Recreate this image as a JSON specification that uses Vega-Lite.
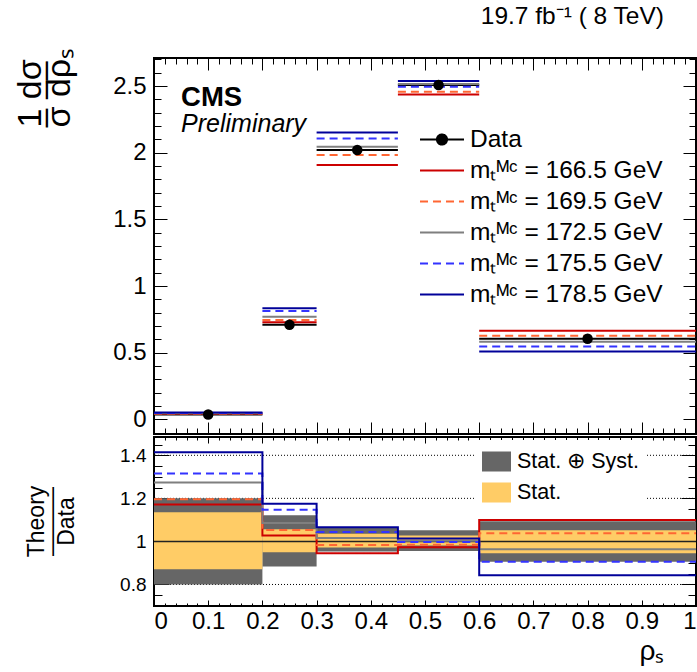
{
  "$schema": "https://vega.github.io/schema/vega-lite/v6.json",
  "background": "white",
  "padding": {"left": 12, "top": 3, "right": 0, "bottom": 0},
  "bounds": "flush",
  "spacing": 3,
  "config": {
    "font": "Liberation Sans",
    "view": {"stroke": "black", "strokeWidth": 2},
    "axis": {"domain": false, "grid": false, "labelFont": "Liberation Sans", "titleFont": "Liberation Sans", "tickColor": "black", "labelColor": "black", "titleColor": "black", "titleFontWeight": "normal", "tickWidth": 1, "zindex": 1, "ticks": true}
  },
  "datasets": {
    "top": [
      {"series": "Data", "lo": 0, "hi": 0.2, "y": 0.036},
      {"series": "Data", "lo": 0.2, "hi": 0.3, "y": 0.709},
      {"series": "Data", "lo": 0.3, "hi": 0.45, "y": 2.02},
      {"series": "Data", "lo": 0.45, "hi": 0.6, "y": 2.507},
      {"series": "Data", "lo": 0.6, "hi": 1.0, "y": 0.604},
      {"series": "mₜᴹᶜ = 166.5 GeV", "lo": 0, "hi": 0.2, "y": 0.042},
      {"series": "mₜᴹᶜ = 166.5 GeV", "lo": 0.2, "hi": 0.3, "y": 0.729},
      {"series": "mₜᴹᶜ = 166.5 GeV", "lo": 0.3, "hi": 0.45, "y": 1.908},
      {"series": "mₜᴹᶜ = 166.5 GeV", "lo": 0.45, "hi": 0.6, "y": 2.437},
      {"series": "mₜᴹᶜ = 166.5 GeV", "lo": 0.6, "hi": 1.0, "y": 0.664},
      {"series": "mₜᴹᶜ = 169.5 GeV", "lo": 0, "hi": 0.2, "y": 0.043},
      {"series": "mₜᴹᶜ = 169.5 GeV", "lo": 0.2, "hi": 0.3, "y": 0.745},
      {"series": "mₜᴹᶜ = 169.5 GeV", "lo": 0.3, "hi": 0.45, "y": 1.983},
      {"series": "mₜᴹᶜ = 169.5 GeV", "lo": 0.45, "hi": 0.6, "y": 2.457},
      {"series": "mₜᴹᶜ = 169.5 GeV", "lo": 0.6, "hi": 1.0, "y": 0.627},
      {"series": "mₜᴹᶜ = 172.5 GeV", "lo": 0, "hi": 0.2, "y": 0.046},
      {"series": "mₜᴹᶜ = 172.5 GeV", "lo": 0.2, "hi": 0.3, "y": 0.77},
      {"series": "mₜᴹᶜ = 172.5 GeV", "lo": 0.3, "hi": 0.45, "y": 2.045},
      {"series": "mₜᴹᶜ = 172.5 GeV", "lo": 0.45, "hi": 0.6, "y": 2.515},
      {"series": "mₜᴹᶜ = 172.5 GeV", "lo": 0.6, "hi": 1.0, "y": 0.582},
      {"series": "mₜᴹᶜ = 175.5 GeV", "lo": 0, "hi": 0.2, "y": 0.047},
      {"series": "mₜᴹᶜ = 175.5 GeV", "lo": 0.2, "hi": 0.3, "y": 0.813},
      {"series": "mₜᴹᶜ = 175.5 GeV", "lo": 0.3, "hi": 0.45, "y": 2.107},
      {"series": "mₜᴹᶜ = 175.5 GeV", "lo": 0.45, "hi": 0.6, "y": 2.494},
      {"series": "mₜᴹᶜ = 175.5 GeV", "lo": 0.6, "hi": 1.0, "y": 0.547},
      {"series": "mₜᴹᶜ = 178.5 GeV", "lo": 0, "hi": 0.2, "y": 0.051},
      {"series": "mₜᴹᶜ = 178.5 GeV", "lo": 0.2, "hi": 0.3, "y": 0.833},
      {"series": "mₜᴹᶜ = 178.5 GeV", "lo": 0.3, "hi": 0.45, "y": 2.152},
      {"series": "mₜᴹᶜ = 178.5 GeV", "lo": 0.45, "hi": 0.6, "y": 2.537},
      {"series": "mₜᴹᶜ = 178.5 GeV", "lo": 0.6, "hi": 1.0, "y": 0.509}
    ],
    "points": [
      {"rho": 0.1, "value": 0.036},
      {"rho": 0.25, "value": 0.709},
      {"rho": 0.375, "value": 2.02},
      {"rho": 0.525, "value": 2.507},
      {"rho": 0.8, "value": 0.604}
    ],
    "ratio": [
      {"series": "mₜᴹᶜ = 166.5 GeV", "x": 0, "r": 1.172},
      {"series": "mₜᴹᶜ = 166.5 GeV", "x": 0.2, "r": 1.028},
      {"series": "mₜᴹᶜ = 166.5 GeV", "x": 0.3, "r": 0.945},
      {"series": "mₜᴹᶜ = 166.5 GeV", "x": 0.45, "r": 0.973},
      {"series": "mₜᴹᶜ = 166.5 GeV", "x": 0.6, "r": 1.099},
      {"series": "mₜᴹᶜ = 166.5 GeV", "x": 1.0, "r": 1.099},
      {"series": "mₜᴹᶜ = 169.5 GeV", "x": 0, "r": 1.196},
      {"series": "mₜᴹᶜ = 169.5 GeV", "x": 0.2, "r": 1.053},
      {"series": "mₜᴹᶜ = 169.5 GeV", "x": 0.3, "r": 0.983},
      {"series": "mₜᴹᶜ = 169.5 GeV", "x": 0.45, "r": 0.984},
      {"series": "mₜᴹᶜ = 169.5 GeV", "x": 0.6, "r": 1.038},
      {"series": "mₜᴹᶜ = 169.5 GeV", "x": 1.0, "r": 1.038},
      {"series": "mₜᴹᶜ = 172.5 GeV", "x": 0, "r": 1.274},
      {"series": "mₜᴹᶜ = 172.5 GeV", "x": 0.2, "r": 1.086},
      {"series": "mₜᴹᶜ = 172.5 GeV", "x": 0.3, "r": 1.016},
      {"series": "mₜᴹᶜ = 172.5 GeV", "x": 0.45, "r": 1.003},
      {"series": "mₜᴹᶜ = 172.5 GeV", "x": 0.6, "r": 0.964},
      {"series": "mₜᴹᶜ = 172.5 GeV", "x": 1.0, "r": 0.964},
      {"series": "mₜᴹᶜ = 175.5 GeV", "x": 0, "r": 1.316},
      {"series": "mₜᴹᶜ = 175.5 GeV", "x": 0.2, "r": 1.147},
      {"series": "mₜᴹᶜ = 175.5 GeV", "x": 0.3, "r": 1.044},
      {"series": "mₜᴹᶜ = 175.5 GeV", "x": 0.45, "r": 0.997},
      {"series": "mₜᴹᶜ = 175.5 GeV", "x": 0.6, "r": 0.906},
      {"series": "mₜᴹᶜ = 175.5 GeV", "x": 1.0, "r": 0.906},
      {"series": "mₜᴹᶜ = 178.5 GeV", "x": 0, "r": 1.414},
      {"series": "mₜᴹᶜ = 178.5 GeV", "x": 0.2, "r": 1.175},
      {"series": "mₜᴹᶜ = 178.5 GeV", "x": 0.3, "r": 1.066},
      {"series": "mₜᴹᶜ = 178.5 GeV", "x": 0.45, "r": 1.013},
      {"series": "mₜᴹᶜ = 178.5 GeV", "x": 0.6, "r": 0.843},
      {"series": "mₜᴹᶜ = 178.5 GeV", "x": 1.0, "r": 0.843}
    ],
    "bands": [
      {"band": "Stat. ⊕ Syst.", "lo": 0, "hi": 0.2, "low": 0.80, "high": 1.20},
      {"band": "Stat. ⊕ Syst.", "lo": 0.2, "hi": 0.3, "low": 0.884, "high": 1.122},
      {"band": "Stat. ⊕ Syst.", "lo": 0.3, "hi": 0.45, "low": 0.953, "high": 1.067},
      {"band": "Stat. ⊕ Syst.", "lo": 0.45, "hi": 0.6, "low": 0.956, "high": 1.052},
      {"band": "Stat. ⊕ Syst.", "lo": 0.6, "hi": 1.0, "low": 0.906, "high": 1.094},
      {"band": "Stat.", "lo": 0, "hi": 0.2, "low": 0.871, "high": 1.136},
      {"band": "Stat.", "lo": 0.2, "hi": 0.3, "low": 0.95, "high": 1.057},
      {"band": "Stat.", "lo": 0.3, "hi": 0.45, "low": 0.972, "high": 1.036},
      {"band": "Stat.", "lo": 0.45, "hi": 0.6, "low": 0.981, "high": 1.027},
      {"band": "Stat.", "lo": 0.6, "hi": 1.0, "low": 0.945, "high": 1.052}
    ]
  },
  "resolve": {"scale": {"stroke": "independent", "strokeDash": "independent", "fill": "independent"}, "legend": {"stroke": "independent", "fill": "independent"}},
  "vconcat": [
    {
      "width": 542,
      "height": 376,
      "title": {"text": "19.7 fb⁻¹ ( 8 TeV)", "anchor": "end", "fontSize": 24.5, "fontWeight": "normal", "font": "Liberation Sans", "baseline": "alphabetic", "offset": -11, "dx": -33, "color": "black"},
      "resolve": {"axis": {"x": "independent", "y": "independent"}},
      "layer": [
        {
          "data": {"name": "top"},
          "mark": {"type": "rule", "strokeWidth": 2},
          "encoding": {
            "x": {"field": "lo", "type": "quantitative", "scale": {"domain": [0, 1], "nice": false, "zero": false},
              "axis": {"orient": "bottom", "labels": false, "title": null, "values": [0,0.1,0.2,0.3,0.4,0.5,0.6,0.7,0.8,0.9,1], "tickSize": 12, "offset": -12}},
            "x2": {"field": "hi"},
            "y": {"field": "y", "type": "quantitative", "scale": {"domain": [-0.11, 2.71], "nice": false, "zero": false},
              "axis": {"orient": "left", "format": "~g", "labelFontSize": 24, "labelPadding": 8, "values": [0,0.5,1,1.5,2,2.5], "tickSize": 13, "offset": -13,
                "title": ["1  dσ", "–  ––", "σ  dρₛ"], "titleFontSize": 34, "titleLineHeight": 14.5, "titleAngle": -90, "titleAlign": "left", "titleBaseline": "alphabetic", "titleX": -127, "titleY": 69}},
            "stroke": {"field": "series", "type": "nominal",
              "scale": {"domain": ["Data", "mₜᴹᶜ = 166.5 GeV", "mₜᴹᶜ = 169.5 GeV", "mₜᴹᶜ = 172.5 GeV", "mₜᴹᶜ = 175.5 GeV", "mₜᴹᶜ = 178.5 GeV"], "range": ["#000000", "#cc0000", "#ff6633", "#7f7f7f", "#3333ff", "#000099"]},
              "legend": {"orient": "none", "legendX": 265, "legendY": 66, "title": null, "padding": 0, "labelFontSize": 24.5, "labelColor": "black", "labelFont": "Liberation Sans", "labelLimit": 400, "labelOffset": 5, "symbolSize": 1936, "symbolStrokeWidth": 2, "rowPadding": 0, "clipHeight": 31, "symbolType": "stroke",
                "encode": {"symbols": {"update": {
                  "shape": {"signal": "datum.value === 'Data' ? 'M-1,0H1M-0.23,0A0.23,0.23,0,1,0,0.23,0A0.23,0.23,0,1,0,-0.23,0Z' : 'M-1,0H1'"},
                  "fill": {"signal": "datum.value === 'Data' ? 'black' : 'transparent'"},
                  "strokeDash": {"signal": "indexof(datum.value,'169.5') >= 0 || indexof(datum.value,'175.5') >= 0 ? [8,5] : [1,0]"}}}}}},
            "strokeDash": {"field": "series", "type": "nominal",
              "scale": {"domain": ["Data", "mₜᴹᶜ = 166.5 GeV", "mₜᴹᶜ = 169.5 GeV", "mₜᴹᶜ = 172.5 GeV", "mₜᴹᶜ = 175.5 GeV", "mₜᴹᶜ = 178.5 GeV"], "range": [[1,0],[1,0],[8,5],[1,0],[8,5],[1,0]]},
              "legend": null}
          }
        },
        {
          "data": {"name": "points"},
          "mark": {"type": "point", "filled": true, "color": "black", "opacity": 1, "size": 110},
          "encoding": {
            "x": {"field": "rho", "type": "quantitative",
              "axis": {"orient": "top", "labels": false, "title": null, "values": [0,0.1,0.2,0.3,0.4,0.5,0.6,0.7,0.8,0.9,1], "tickSize": 12, "offset": -12}},
            "y": {"field": "value", "type": "quantitative",
              "axis": {"orient": "right", "labels": false, "title": null, "values": [0,0.5,1,1.5,2,2.5], "tickSize": 13, "offset": -13}}
          }
        },
        {
          "data": {"values": [{}]},
          "mark": {"type": "text", "text": "CMS", "fontSize": 27.5, "fontWeight": "bold", "align": "left", "baseline": "alphabetic", "color": "black"},
          "encoding": {
            "x": {"datum": 0.05, "type": "quantitative",
              "axis": {"orient": "bottom", "labels": false, "title": null,
                "values": [0,0.02,0.04,0.06,0.08,0.1,0.12,0.14,0.16,0.18,0.2,0.22,0.24,0.26,0.28,0.3,0.32,0.34,0.36,0.38,0.4,0.42,0.44,0.46,0.48,0.5,0.52,0.54,0.56,0.58,0.6,0.62,0.64,0.66,0.68,0.7,0.72,0.74,0.76,0.78,0.8,0.82,0.84,0.86,0.88,0.9,0.92,0.94,0.96,0.98,1],
                "tickSize": 6, "offset": -6}},
            "y": {"datum": 2.35, "type": "quantitative",
              "axis": {"orient": "left", "labels": false, "title": null,
                "values": [-0.1,0,0.1,0.2,0.3,0.4,0.5,0.6,0.7,0.8,0.9,1,1.1,1.2,1.3,1.4,1.5,1.6,1.7,1.8,1.9,2,2.1,2.2,2.3,2.4,2.5,2.6,2.7],
                "tickSize": 7, "offset": -7}}
          }
        },
        {
          "data": {"values": [{}]},
          "mark": {"type": "text", "text": "Preliminary", "fontSize": 25, "fontStyle": "italic", "align": "left", "baseline": "alphabetic", "color": "black"},
          "encoding": {
            "x": {"datum": 0.05, "type": "quantitative",
              "axis": {"orient": "top", "labels": false, "title": null,
                "values": [0,0.02,0.04,0.06,0.08,0.1,0.12,0.14,0.16,0.18,0.2,0.22,0.24,0.26,0.28,0.3,0.32,0.34,0.36,0.38,0.4,0.42,0.44,0.46,0.48,0.5,0.52,0.54,0.56,0.58,0.6,0.62,0.64,0.66,0.68,0.7,0.72,0.74,0.76,0.78,0.8,0.82,0.84,0.86,0.88,0.9,0.92,0.94,0.96,0.98,1],
                "tickSize": 6, "offset": -6}},
            "y": {"datum": 2.155, "type": "quantitative",
              "axis": {"orient": "right", "labels": false, "title": null,
                "values": [-0.1,0,0.1,0.2,0.3,0.4,0.5,0.6,0.7,0.8,0.9,1,1.1,1.2,1.3,1.4,1.5,1.6,1.7,1.8,1.9,2,2.1,2.2,2.3,2.4,2.5,2.6,2.7],
                "tickSize": 7, "offset": -7}}
          }
        }
      ]
    },
    {
      "width": 542,
      "height": 169,
      "resolve": {"axis": {"x": "independent", "y": "independent"}},
      "layer": [
        {
          "data": {"values": [{}]},
          "mark": {"type": "rule", "strokeDash": [1, 2], "strokeWidth": 1, "color": "black"},
          "encoding": {"y": {"datum": 0.8, "type": "quantitative", "axis": null}}
        },
        {
          "data": {"values": [{}]},
          "mark": {"type": "rule", "strokeDash": [1, 2], "strokeWidth": 1, "color": "black"},
          "encoding": {"y": {"datum": 1.2, "type": "quantitative", "axis": null}}
        },
        {
          "data": {"values": [{}]},
          "mark": {"type": "rule", "strokeDash": [1, 2], "strokeWidth": 1, "color": "black"},
          "encoding": {"y": {"datum": 1.4, "type": "quantitative", "axis": null}}
        },
        {
          "data": {"name": "bands"},
          "mark": {"type": "rect"},
          "encoding": {
            "x": {"field": "lo", "type": "quantitative", "scale": {"domain": [0, 1], "nice": false, "zero": false},
              "axis": {"orient": "bottom", "format": "~g", "labelFontSize": 24, "labelPadding": 3, "values": [0,0.1,0.2,0.3,0.4,0.5,0.6,0.7,0.8,0.9,1], "tickSize": 6, "offset": -6,
                "title": "ρₛ", "titleFontSize": 28, "titleX": 510, "titleY": 59, "titleAlign": "right", "titleBaseline": "alphabetic", "titleAngle": 0}},
            "x2": {"field": "hi"},
            "y": {"field": "low", "type": "quantitative", "scale": {"domain": [0.7, 1.485], "nice": false, "zero": false},
              "axis": {"orient": "left", "format": "~g", "labelFontSize": 19, "labelPadding": 8, "values": [0.8,1,1.2,1.4], "tickSize": 15, "offset": -15,
                "title": ["Theory", "———", "Data"], "titleFontSize": 23, "titleLineHeight": 15, "titleAngle": -90, "titleAlign": "center", "titleBaseline": "alphabetic", "titleX": -126, "titleY": 84}},
            "y2": {"field": "high"},
            "fill": {"field": "band", "type": "nominal",
              "scale": {"domain": ["Stat. ⊕ Syst.", "Stat."], "range": ["#666666", "#ffcc66"]},
              "legend": {"orient": "none", "legendX": 321, "legendY": 3, "title": null, "padding": 7, "fillColor": "white", "labelFontSize": 21.5, "labelColor": "black", "labelFont": "Liberation Sans", "labelOffset": 6, "symbolSize": 841, "symbolStrokeWidth": 0, "rowPadding": 6, "symbolType": "M-1,-0.69H1V0.69H-1Z", "symbolOpacity": 1}}
          }
        },
        {
          "data": {"values": [{}]},
          "mark": {"type": "rule", "strokeWidth": 1.5, "color": "#222222"},
          "encoding": {"y": {"datum": 1.0, "type": "quantitative", "axis": null}}
        },
        {
          "data": {"name": "ratio"},
          "mark": {"type": "line", "interpolate": "step-after", "strokeWidth": 2},
          "encoding": {
            "x": {"field": "x", "type": "quantitative",
              "axis": {"orient": "top", "labels": false, "title": null, "values": [0,0.1,0.2,0.3,0.4,0.5,0.6,0.7,0.8,0.9,1], "tickSize": 6, "offset": -6}},
            "y": {"field": "r", "type": "quantitative",
              "axis": {"orient": "right", "labels": false, "title": null, "values": [0.8,1,1.2,1.4], "tickSize": 15, "offset": -15}},
            "stroke": {"field": "series", "type": "nominal",
              "scale": {"domain": ["mₜᴹᶜ = 166.5 GeV", "mₜᴹᶜ = 169.5 GeV", "mₜᴹᶜ = 172.5 GeV", "mₜᴹᶜ = 175.5 GeV", "mₜᴹᶜ = 178.5 GeV"], "range": ["#cc0000", "#ff6633", "#7f7f7f", "#3333ff", "#000099"]},
              "legend": null},
            "strokeDash": {"field": "series", "type": "nominal",
              "scale": {"domain": ["mₜᴹᶜ = 166.5 GeV", "mₜᴹᶜ = 169.5 GeV", "mₜᴹᶜ = 172.5 GeV", "mₜᴹᶜ = 175.5 GeV", "mₜᴹᶜ = 178.5 GeV"], "range": [[1,0],[8,5],[1,0],[8,5],[1,0]]},
              "legend": null}
          }
        },
        {
          "data": {"values": [{}]},
          "mark": {"type": "text", "text": ""},
          "encoding": {
            "x": {"datum": 0.5, "type": "quantitative",
              "axis": {"orient": "bottom", "labels": false, "title": null,
                "values": [0,0.02,0.04,0.06,0.08,0.1,0.12,0.14,0.16,0.18,0.2,0.22,0.24,0.26,0.28,0.3,0.32,0.34,0.36,0.38,0.4,0.42,0.44,0.46,0.48,0.5,0.52,0.54,0.56,0.58,0.6,0.62,0.64,0.66,0.68,0.7,0.72,0.74,0.76,0.78,0.8,0.82,0.84,0.86,0.88,0.9,0.92,0.94,0.96,0.98,1],
                "tickSize": 3, "offset": -3}},
            "y": {"datum": 1.0, "type": "quantitative",
              "axis": {"orient": "left", "labels": false, "title": null,
                "values": [0.7,0.75,0.8,0.85,0.9,0.95,1,1.05,1.1,1.15,1.2,1.25,1.3,1.35,1.4,1.45],
                "tickSize": 8, "offset": -8}}
          }
        },
        {
          "data": {"values": [{}]},
          "mark": {"type": "text", "text": ""},
          "encoding": {
            "x": {"datum": 0.5, "type": "quantitative",
              "axis": {"orient": "top", "labels": false, "title": null,
                "values": [0,0.02,0.04,0.06,0.08,0.1,0.12,0.14,0.16,0.18,0.2,0.22,0.24,0.26,0.28,0.3,0.32,0.34,0.36,0.38,0.4,0.42,0.44,0.46,0.48,0.5,0.52,0.54,0.56,0.58,0.6,0.62,0.64,0.66,0.68,0.7,0.72,0.74,0.76,0.78,0.8,0.82,0.84,0.86,0.88,0.9,0.92,0.94,0.96,0.98,1],
                "tickSize": 3, "offset": -3}},
            "y": {"datum": 1.0, "type": "quantitative",
              "axis": {"orient": "right", "labels": false, "title": null,
                "values": [0.7,0.75,0.8,0.85,0.9,0.95,1,1.05,1.1,1.15,1.2,1.25,1.3,1.35,1.4,1.45],
                "tickSize": 8, "offset": -8}}
          }
        }
      ]
    }
  ]
}
